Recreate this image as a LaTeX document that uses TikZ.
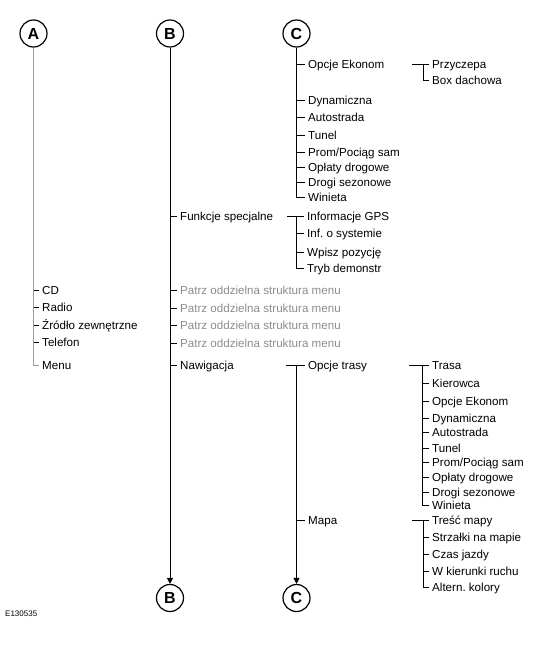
\documentclass[tikz,border=0pt]{standalone}
\usepackage{fontspec}
\setmainfont{Liberation Sans}
\usetikzlibrary{arrows.meta}

\begin{document}
\begin{tikzpicture}[x=1pt,y=-1pt,
	letter/.style={circle,draw=cl,line width=1.2pt,minimum size=27pt,inner sep=0pt,font=\fontsize{16}{16}\selectfont\bfseries},
	item/.style={anchor=west,inner xsep=3pt,inner ysep=1pt,text height=8.5pt,text depth=0.5pt,font=\fontsize{11.6}{12}\selectfont},
	note/.style={item,text=ctg},
	tree/.style={draw=cl,line width=1pt},
	treeA/.style={draw=clA,line width=1pt},
	toend/.style={tree,-{Triangle[length=6pt,width=6pt]}}]
	\definecolor{cl}{rgb}{0.0,0.0,0.0}
	\definecolor{clA}{rgb}{0.62,0.62,0.62}
	\definecolor{ctg}{rgb}{0.55,0.55,0.55}
	\useasboundingbox (0,0) rectangle (538,645);
	%
	\node[letter] (A) at (33.5,33.5) {A};
	\node[letter] (B) at (170,33.5) {B};
	\node[letter] (C) at (296.5,33.5) {C};
	\node[letter] (B2) at (170,598) {B};
	\node[letter] (C2) at (296.5,598) {C};
	\node[anchor=west,inner sep=0pt,font=\fontsize{8}{8}\selectfont] (code) at (5,614) {E130535};
	%
	\node[item] (cd) at (39,290) {CD};
	\node[item] (radio) at (39,307) {Radio};
	\node[item] (zrodlo) at (39,325) {Źródło zewnętrzne};
	\node[item] (tel) at (39,342) {Telefon};
	\node[item] (menu) at (39,365) {Menu};
	%
	\node[item] (funk) at (177,216) {Funkcje specjalne};
	\node[note] (p1) at (177,290) {Patrz oddzielna struktura menu};
	\node[note] (p2) at (177,308) {Patrz oddzielna struktura menu};
	\node[note] (p3) at (177,325) {Patrz oddzielna struktura menu};
	\node[note] (p4) at (177,343) {Patrz oddzielna struktura menu};
	\node[item] (nav) at (177,365) {Nawigacja};
	%
	\node[item] (ekon) at (305,64) {Opcje Ekonom};
	\node[item] (dyn) at (305,100) {Dynamiczna};
	\node[item] (auto) at (305,117) {Autostrada};
	\node[item] (tunel) at (305,135) {Tunel};
	\node[item] (prom) at (305,152) {Prom/Pociąg sam};
	\node[item] (oplaty) at (305,167) {Opłaty drogowe};
	\node[item] (drogi) at (305,182) {Drogi sezonowe};
	\node[item] (win) at (305,197) {Winieta};
	\node[item] (przy) at (429,64) {Przyczepa};
	\node[item] (box) at (429,80) {Box dachowa};
	%
	\node[item] (gps) at (304,216) {Informacje GPS};
	\node[item] (inf) at (304,233) {Inf.\ o systemie};
	\node[item] (wpisz) at (304,252) {Wpisz pozycję};
	\node[item] (tryb) at (304,268) {Tryb demonstr};
	%
	\node[item] (trasy) at (305,365) {Opcje trasy};
	\node[item] (mapa) at (305,520) {Mapa};
	\node[item] (trasa) at (429,365) {Trasa};
	\node[item] (kier) at (429,383) {Kierowca};
	\node[item] (ekon2) at (429,401) {Opcje Ekonom};
	\node[item] (dyn2) at (429,418) {Dynamiczna};
	\node[item] (auto2) at (429,432) {Autostrada};
	\node[item] (tunel2) at (429,448) {Tunel};
	\node[item] (prom2) at (429,462) {Prom/Pociąg sam};
	\node[item] (oplaty2) at (429,477) {Opłaty drogowe};
	\node[item] (drogi2) at (429,492) {Drogi sezonowe};
	\node[item] (win2) at (429,505) {Winieta};
	\node[item] (tresc) at (429,520) {Treść mapy};
	\node[item] (strz) at (429,537) {Strzałki na mapie};
	\node[item] (czas) at (429,554) {Czas jazdy};
	\node[item] (kier3) at (429,571) {W kierunki ruchu};
	\node[item] (alt) at (429,587) {Altern.\ kolory};
	%
	\coordinate (jEkon) at (412,64);
	\coordinate (jFunk) at (287,216);
	\coordinate (jNav) at (286,365);
	\coordinate (jTrasy) at (409,365);
	\coordinate (jMapa) at (412,520);
	%
	\draw[treeA] (A.south) |- (menu.west);
	\draw[tree] (cd.west -| A) -- (cd.west);
	\draw[tree] (radio.west -| A) -- (radio.west);
	\draw[tree] (zrodlo.west -| A) -- (zrodlo.west);
	\draw[tree] (tel.west -| A) -- (tel.west);
	%
	\draw[toend] (B.south) -- (B2.north);
	\draw[tree] (funk.west -| B) -- (funk.west);
	\draw[tree] (p1.west -| B) -- (p1.west);
	\draw[tree] (p2.west -| B) -- (p2.west);
	\draw[tree] (p3.west -| B) -- (p3.west);
	\draw[tree] (p4.west -| B) -- (p4.west);
	\draw[tree] (nav.west -| B) -- (nav.west);
	%
	\draw[tree] (C.south) |- (win.west);
	\draw[tree] (ekon.west -| C) -- (ekon.west);
	\draw[tree] (dyn.west -| C) -- (dyn.west);
	\draw[tree] (auto.west -| C) -- (auto.west);
	\draw[tree] (tunel.west -| C) -- (tunel.west);
	\draw[tree] (prom.west -| C) -- (prom.west);
	\draw[tree] (oplaty.west -| C) -- (oplaty.west);
	\draw[tree] (drogi.west -| C) -- (drogi.west);
	\draw[tree] (jEkon) -- (przy.west);
	\draw[tree] ([xshift=-6pt]przy.west) |- (box.west);
	%
	\draw[tree] (jFunk) -- (gps.west);
	\draw[tree] (gps.west -| C) |- (tryb.west);
	\draw[tree] (inf.west -| C) -- (inf.west);
	\draw[tree] (wpisz.west -| C) -- (wpisz.west);
	%
	\draw[tree] (jNav) -- (trasy.west);
	\draw[toend] (trasy.west -| C) -- (C2.north);
	\draw[tree] (mapa.west -| C) -- (mapa.west);
	\draw[tree] (jTrasy) -- (trasa.west);
	\draw[tree] ([xshift=-7pt]trasa.west) |- (win2.west);
	\draw[tree] ([xshift=-7pt]kier.west) -- (kier.west);
	\draw[tree] ([xshift=-7pt]ekon2.west) -- (ekon2.west);
	\draw[tree] ([xshift=-7pt]dyn2.west) -- (dyn2.west);
	\draw[tree] ([xshift=-7pt]auto2.west) -- (auto2.west);
	\draw[tree] ([xshift=-7pt]tunel2.west) -- (tunel2.west);
	\draw[tree] ([xshift=-7pt]prom2.west) -- (prom2.west);
	\draw[tree] ([xshift=-7pt]oplaty2.west) -- (oplaty2.west);
	\draw[tree] ([xshift=-7pt]drogi2.west) -- (drogi2.west);
	\draw[tree] (jMapa) -- (tresc.west);
	\draw[tree] ([xshift=-6pt]tresc.west) |- (alt.west);
	\draw[tree] ([xshift=-6pt]strz.west) -- (strz.west);
	\draw[tree] ([xshift=-6pt]czas.west) -- (czas.west);
	\draw[tree] ([xshift=-6pt]kier3.west) -- (kier3.west);
	%
\end{tikzpicture}
\end{document}
